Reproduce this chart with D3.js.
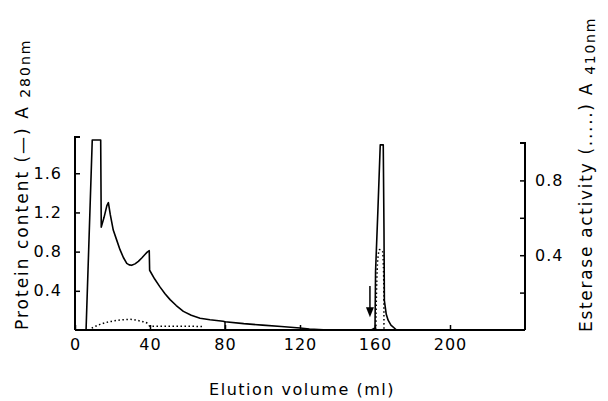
<!DOCTYPE html>
<html>
<head>
<meta charset="utf-8">
<script src="https://cdn.jsdelivr.net/npm/d3@7"></script>
<style>
  body { margin: 0; background: #fff; }
  text { font-family: "DejaVu Sans", sans-serif; fill: #000; }
</style>
</head>
<body>
<div id="chart"></div>
<script>
// elution volume (ml) vs protein A280 (solid line)
var protein = [
  [0, 0], [5.9, 0], [9.2, 1.94], [13.7, 1.94], [14.0, 1.05], [15.5, 1.15], [17.0, 1.27], [17.8, 1.30],
  [18.8, 1.18], [20.4, 1.02], [22.2, 0.92], [24, 0.82], [25.8, 0.74], [27.6, 0.68], [28.9, 0.665],
  [30.2, 0.66], [32, 0.675], [33.8, 0.70], [35.6, 0.735], [37.3, 0.77], [38.5, 0.795],
  [39.6, 0.81], [39.8, 0.61], [42.5, 0.52], [45.3, 0.44], [48, 0.37], [50.7, 0.31],
  [54, 0.25], [57.8, 0.19], [62, 0.15], [66.7, 0.12], [72, 0.105], [79, 0.09],
  [80, 0.085], [90, 0.065], [100, 0.05], [110, 0.035], [120, 0.02], [125, 0.01], [135, 0],
  [158, 0], [160, 0.02], [160.3, 0.6], [161.5, 1.2], [162.8, 1.89], [164.4, 1.89],
  [164.8, 1.0], [165, 0.3], [166, 0.16], [167, 0.1], [168.5, 0.05], [171.5, 0], [240, 0]
];
// esterase activity A410 (dotted line)
var esterase1 = [
  [8.9, 0.01], [13.3, 0.03], [18.7, 0.045], [24, 0.053], [29.3, 0.057], [34.7, 0.048],
  [38.6, 0.036], [40, 0.02], [50, 0.02], [60, 0.02], [68, 0.018]
];
var esterase2 = [
  [160.4, 0], [160.8, 0.2], [161.5, 0.38], [162.5, 0.43], [164, 0.42], [164.6, 0.3], [164.8, 0]
];
var fractionMarks = [80];
var arrowAt = 157.3;
var xTicks = [0, 40, 80, 120, 160, 200];
var yLeftTicks = [0.4, 0.8, 1.2, 1.6];
var yRightTicks = [0.2, 0.4, 0.6, 0.8];
var yRightLabels = [0.4, 0.8];

var width = 608, height = 401;
var svg = d3.select("#chart").append("svg")
  .attr("width", width)
  .attr("height", height);

var x = d3.scaleLinear().domain([0, 240]).range([75, 525]);
var yL = d3.scaleLinear().domain([0, 1.97]).range([330, 137]);
var yR = d3.scaleLinear().domain([0, 1]).range([330, 143]);

var line = d3.line()
  .x(function (d) { return x(d[0]); })
  .y(function (d) { return yL(d[1]); });
var lineR = d3.line()
  .x(function (d) { return x(d[0]); })
  .y(function (d) { return yR(d[1]); })
  .curve(d3.curveMonotoneX);

// axes
var xAxis = svg.append("g")
  .attr("transform", "translate(0,330)")
  .call(d3.axisBottom(x).tickValues(xTicks).tickSize(-5).tickFormat(d3.format("d")).tickPadding(9));
var leftAxis = svg.append("g")
  .attr("transform", "translate(75,0)")
  .call(d3.axisLeft(yL).tickValues(yLeftTicks).tickSize(-5).tickPadding(13).tickFormat(d3.format(".1f")));
var rightAxis = svg.append("g")
  .attr("transform", "translate(525,0)")
  .call(d3.axisRight(yR).tickValues(yRightTicks).tickSize(-5).tickPadding(10)
    .tickFormat(function (d) { return yRightLabels.indexOf(d) >= 0 ? d3.format(".1f")(d) : ""; }));

[xAxis, leftAxis, rightAxis].forEach(function (g) {
  g.select(".domain").attr("stroke", "#000").attr("stroke-width", 2);
  g.selectAll(".tick line").attr("stroke", "#000").attr("stroke-width", 1.5);
  g.selectAll(".tick text").style("font-size", "16px").style("letter-spacing", "1px");
});
xAxis.select(".domain").attr("d", "M75,0H525");
leftAxis.select(".domain").attr("d", "M5," + yL.range()[1] + "H0V330");
rightAxis.select(".domain").attr("d", "M-5," + yR.range()[1] + "H0V330");

// protein curve
svg.append("path")
  .datum(protein)
  .attr("fill", "none")
  .attr("stroke", "#000")
  .attr("stroke-width", 1.6)
  .attr("stroke-linejoin", "round")
  .attr("d", line);

svg.selectAll(".frac")
  .data(fractionMarks)
  .enter().append("line")
  .attr("x1", function (d) { return x(d); })
  .attr("x2", function (d) { return x(d); })
  .attr("y1", yL(0))
  .attr("y2", yL(0.09))
  .attr("stroke", "#000")
  .attr("stroke-width", 1.5);

// esterase curves
[esterase1, esterase2].forEach(function (s) {
  svg.append("path")
    .datum(s)
    .attr("fill", "none")
    .attr("stroke", "#000")
    .attr("stroke-width", 1.5)
    .attr("stroke-dasharray", "1.5,2.5")
    .attr("d", lineR);
});

// arrow
svg.append("line")
  .attr("x1", x(arrowAt)).attr("x2", x(arrowAt))
  .attr("y1", yL(0.45)).attr("y2", yL(0.16))
  .attr("stroke", "#000").attr("stroke-width", 1.5);
svg.append("path")
  .attr("d", "M" + (x(arrowAt) - 4) + "," + (yL(0.16) - 7) + "L" + x(arrowAt) + "," + yL(0.13) + "L" + (x(arrowAt) + 4) + "," + (yL(0.16) - 7) + "Z")
  .attr("fill", "#000");

// axis titles
svg.append("text")
  .attr("x", 302).attr("y", 395)
  .attr("text-anchor", "middle")
  .style("font-size", "16px").style("letter-spacing", "1.5px")
  .text("Elution volume (ml)");

var lt = svg.append("text")
  .attr("transform", "translate(28,330) rotate(-90)")
  .style("font-size", "17px").style("letter-spacing", "2px");
lt.append("tspan").text("Protein content (\u2014) A ");
lt.append("tspan").style("font-size", "14px").attr("dy", 2).text("280nm");

var rt = svg.append("text")
  .attr("transform", "translate(592,332) rotate(-90)")
  .style("font-size", "17px").style("letter-spacing", "1.7px");
rt.append("tspan").text("Esterase activity (.....)  A ");
rt.append("tspan").style("font-size", "14px").attr("dy", 3).text("410nm");
</script>
</body>
</html>
